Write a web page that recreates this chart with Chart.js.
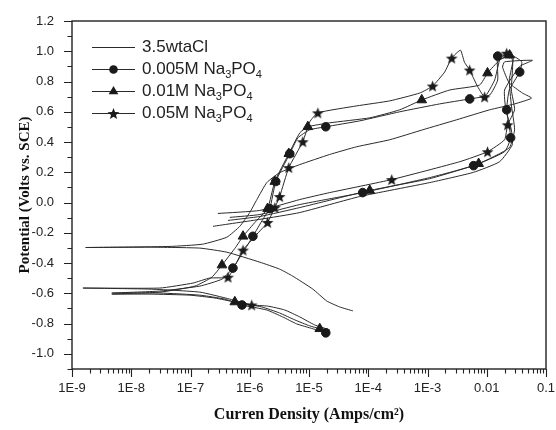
<!DOCTYPE html>
<html>
<head>
<meta charset="utf-8">
<script src="https://cdn.jsdelivr.net/npm/chart.js@4.4.1/dist/chart.umd.min.js"></script>
<style>
  html, body { margin: 0; padding: 0; background: #fff; }
  #wrap { width: 556px; height: 430px; }
</style>
</head>
<body>
<div id="wrap"><canvas id="c" width="556" height="430"></canvas></div>
<script>
// ---- tick labels ----
const xTickValues = [1e-9, 1e-8, 1e-7, 1e-6, 1e-5, 1e-4, 1e-3, 0.01, 0.1];
const xTickLabels = ['1E-9', '1E-8', '1E-7', '1E-6', '1E-5', '1E-4', '1E-3', '0.01', '0.1'];
const yTickValues = [-1.0, -0.8, -0.6, -0.4, -0.2, 0.0, 0.2, 0.4, 0.6, 0.8, 1.0, 1.2];
const yTickLabels = ['-1.0', '-0.8', '-0.6', '-0.4', '-0.2', '0.0', '0.2', '0.4', '0.6', '0.8', '1.0', '1.2'];
const yMinorValues = [-1.1, -0.9, -0.7, -0.5, -0.3, -0.1, 0.1, 0.3, 0.5, 0.7, 0.9, 1.1];

const seriesNames = ['3.5wtaCl', '0.005M Na', '0.01M Na', '0.05M Na'];

// ---- 3.5wtaCl (current A/cm2, potential V) ----
const clI = [5.5e-5, 3.3e-5, 2.0e-5, 1.16e-5, 5.3e-6, 3.2e-6, 1.48e-6, 4.1e-7, 1.44e-7, 2.1e-8, 1.7e-9,
  4.5e-8, 1.6e-7, 4.1e-7, 6.8e-7, 1.0e-6, 1.32e-6, 1.94e-6, 3.2e-6, 7.0e-6, 2.2e-5, 6.4e-5, 2.3e-4,
  8.3e-4, 3.1e-3, 1.12e-2, 2.95e-2, 5.7e-2, 4.0e-2, 2.4e-2, 1.85e-2, 2.0e-2, 5.9e-2, 3.6e-2, 2.0e-2,
  2.1e-2, 2.6e-2, 2.7e-2, 1.65e-2, 6.0e-3, 1.09e-3, 7.2e-5, 7.0e-6, 1.48e-6, 2.4e-7];
const clE = [-0.716, -0.69, -0.651, -0.572, -0.486, -0.44, -0.394, -0.328, -0.301, -0.295, -0.297,
  -0.29, -0.275, -0.229, -0.157, -0.066, 0.02, 0.132, 0.198, 0.251, 0.317, 0.369, 0.415,
  0.481, 0.547, 0.613, 0.652, 0.69, 0.724, 0.79, 0.895, 0.93, 0.94, 0.90, 0.744,
  0.613, 0.481, 0.382, 0.27, 0.2, 0.132, 0.04, -0.066, -0.111, -0.157];

// ---- 0.005M Na3PO4 ----
const p005I = [1.92e-5, 1.16e-5, 6.2e-6, 3.6e-6, 1.94e-6, 7.4e-7, 3.8e-7, 1.44e-7, 3.05e-8, 4.7e-9,
  3.05e-8, 1.44e-7, 3.4e-7, 5.2e-7, 8.3e-7, 1.13e-6, 1.66e-6, 2.18e-6, 2.75e-6, 4.74e-6, 6.5e-6,
  1.03e-5, 1.92e-5, 7.2e-5, 3.4e-4, 1.6e-3, 5.15e-3, 1.12e-2, 1.53e-2, 1.53e-2, 2.6e-2, 3.9e-2,
  3.6e-2, 2.4e-2, 2.17e-2, 2.53e-2, 2.0e-2, 6.0e-3, 1.09e-3, 8.07e-5, 7.0e-6, 1.48e-6, 4.6e-7];
const p005E = [-0.861, -0.834, -0.802, -0.756, -0.71, -0.677, -0.638, -0.612, -0.598, -0.598,
  -0.585, -0.552, -0.506, -0.433, -0.308, -0.223, -0.111, -0.04, 0.139, 0.323, 0.428,
  0.481, 0.501, 0.54, 0.6, 0.652, 0.685, 0.711, 0.81, 0.968, 0.974, 0.93,
  0.863, 0.744, 0.613, 0.428, 0.336, 0.244, 0.165, 0.066, -0.013, -0.079, -0.098];
const p005Marks = [0, 5, 13, 15, 17, 18, 19, 22, 26, 29, 32, 34, 35, 37, 39];

// ---- 0.01M Na3PO4 ----
const p01I = [1.52e-5, 1.03e-5, 5.8e-6, 3.2e-6, 1.6e-6, 5.6e-7, 2.58e-7, 9.8e-8, 2.07e-8, 4.7e-9,
  3.05e-8, 1.19e-7, 2.3e-7, 3.4e-7, 5.8e-7, 7.7e-7, 1.27e-6, 2.0e-6, 2.65e-6, 4.56e-6, 7.0e-6,
  9.55e-6, 2.24e-5, 1.06e-4, 3.4e-4, 8.0e-4, 2.37e-3, 7.6e-3, 1.03e-2, 1.65e-2, 2.43e-2, 2.8e-2,
  2.4e-2, 2.6e-2, 2.95e-2, 2.4e-2, 7.3e-3, 1.09e-3, 1.06e-4, 7.0e-6, 1.48e-6, 4.3e-7];
const p01E = [-0.834, -0.815, -0.776, -0.73, -0.69, -0.657, -0.631, -0.612, -0.605, -0.605,
  -0.592, -0.552, -0.493, -0.413, -0.295, -0.223, -0.124, -0.04, 0.139, 0.323, 0.461,
  0.501, 0.527, 0.56, 0.613, 0.678, 0.744, 0.777, 0.856, 0.941, 0.974, 0.95,
  0.81, 0.645, 0.481, 0.362, 0.257, 0.158, 0.08, -0.033, -0.092, -0.118];
const p01Marks = [0, 5, 13, 15, 17, 18, 19, 21, 25, 28, 30, 36, 38];

// ---- 0.05M Na3PO4 ----
const p05I = [2.24e-5, 1.25e-5, 7.0e-6, 3.9e-6, 2.0e-6, 1.08e-6, 4.6e-7, 1.44e-7, 2.07e-8, 1.53e-9,
  3.05e-8, 1.1e-7, 2.1e-7, 4.3e-7, 5.8e-7, 7.7e-7, 1.27e-6, 2.0e-6, 2.65e-6, 3.2e-6, 4.56e-6,
  7.85e-6, 1.03e-5, 1.41e-5, 6.4e-5, 2.3e-4, 7.4e-4, 1.22e-3, 1.95e-3, 2.56e-3, 3.6e-3, 4.2e-3,
  5.15e-3, 6.8e-3, 9.2e-3, 1.36e-2, 1.65e-2, 2.17e-2, 2.74e-2, 2.6e-2, 2.95e-2, 2.25e-2, 2.0e-2,
  1.03e-2, 3.5e-3, 2.49e-4, 2.24e-5, 7.0e-6, 1.48e-6, 2.9e-7];
const p05E = [-0.841, -0.809, -0.756, -0.71, -0.684, -0.677, -0.638, -0.592, -0.572, -0.565,
  -0.565, -0.532, -0.499, -0.493, -0.407, -0.314, -0.216, -0.131, -0.033, 0.04, 0.231,
  0.402, 0.534, 0.593, 0.639, 0.672, 0.724, 0.77, 0.863, 0.955, 1.007, 0.928,
  0.876, 0.777, 0.698, 0.81, 0.941, 0.987, 0.94, 0.744, 0.613, 0.514, 0.415,
  0.336, 0.27, 0.152, 0.066, 0.02, -0.052, -0.072];
const p05Marks = [5, 13, 15, 17, 18, 19, 20, 21, 23, 27, 29, 32, 34, 37, 41, 43, 45];

// ---- marker glyphs ----
const INK = '#1a1a1a';
function makeStar(size) {
  const c = document.createElement('canvas');
  c.width = size; c.height = size;
  const g = c.getContext('2d');
  const cx = size / 2, cy = size / 2 + 0.6, ro = size / 2 - 0.3, ri = ro * 0.42;
  g.beginPath();
  for (let i = 0; i < 10; i++) {
    const r = i % 2 ? ri : ro;
    const a = -Math.PI / 2 + i * Math.PI / 5;
    g.lineTo(cx + r * Math.cos(a), cy + r * Math.sin(a));
  }
  g.closePath();
  g.fillStyle = INK;
  g.fill();
  return c;
}
const starImg = makeStar(13);

function pts(I, E) { return I.map((x, i) => ({ x: x, y: E[i] })); }
function markPts(I, E, idx) { return idx.map(i => ({ x: I[i], y: E[i] })); }

function lineDs(I, E) {
  return { data: pts(I, E), showLine: true, pointRadius: 0, borderColor: '#2a2a2a',
           borderWidth: 1, tension: 0.15, fill: false, order: 2 };
}
function markDs(I, E, idx, style, r) {
  return { data: markPts(I, E, idx), showLine: false, pointStyle: style, pointRadius: r,
           backgroundColor: INK, borderColor: INK, borderWidth: 1, order: 0 };
}

const datasets = [
  lineDs(clI, clE),
  lineDs(p005I, p005E),
  lineDs(p01I, p01E),
  lineDs(p05I, p05E),
  markDs(p005I, p005E, p005Marks, 'circle', 4.3),
  markDs(p01I, p01E, p01Marks, 'triangle', 5.6),
  markDs(p05I, p05E, p05Marks, starImg, 6)
];

// ---- custom plugin: frame, ticks, legend ----
const framePlugin = {
  id: 'frame',
  afterDraw(chart) {
    const { ctx, chartArea: a, scales } = chart;
    const xs = scales.x, ys = scales.y;
    ctx.save();
    ctx.strokeStyle = '#222';
    ctx.lineWidth = 1.4;
    ctx.strokeRect(a.left, a.top, a.right - a.left, a.bottom - a.top);
    ctx.lineWidth = 1.1;
    ctx.beginPath();
    yTickValues.forEach(v => { const p = Math.round(ys.getPixelForValue(v)) + 0.5; ctx.moveTo(a.left, p); ctx.lineTo(a.left - 8, p); });
    yMinorValues.forEach(v => { const p = Math.round(ys.getPixelForValue(v)) + 0.5; ctx.moveTo(a.left, p); ctx.lineTo(a.left - 4.5, p); });
    xTickValues.forEach(v => { const p = Math.round(xs.getPixelForValue(v)) + 0.5; ctx.moveTo(p, a.bottom); ctx.lineTo(p, a.bottom + 8); });
    for (let d = 0; d < xTickValues.length - 1; d++) {
      for (let k = 2; k <= 9; k++) {
        const p = Math.round(xs.getPixelForValue(xTickValues[d] * k)) + 0.5;
        ctx.moveTo(p, a.bottom); ctx.lineTo(p, a.bottom + 4.5);
      }
    }
    ctx.stroke();

    // legend
    const rows = [47, 69, 91, 113];
    const x0 = 92, x1 = 135, mx = 113.5, tx = 142;
    ctx.strokeStyle = '#2a2a2a';
    ctx.lineWidth = 1;
    rows.forEach((y, i) => {
      ctx.beginPath(); ctx.moveTo(x0, y + 0.5); ctx.lineTo(x1, y + 0.5); ctx.stroke();
      ctx.fillStyle = INK;
      if (i === 1) { ctx.beginPath(); ctx.arc(mx, y + 0.5, 4.3, 0, Math.PI * 2); ctx.fill(); }
      if (i === 2) {
        const r = 5.6;
        ctx.beginPath();
        ctx.moveTo(mx, y + 0.5 - r);
        ctx.lineTo(mx + r * Math.sin(2 * Math.PI / 3), y + 0.5 + r / 2);
        ctx.lineTo(mx - r * Math.sin(2 * Math.PI / 3), y + 0.5 + r / 2);
        ctx.closePath(); ctx.fill();
      }
      if (i === 3) { ctx.drawImage(starImg, mx - 6.5, y + 0.5 - 6.5); }
      ctx.fillStyle = '#222';
      ctx.textBaseline = 'middle';
      ctx.textAlign = 'left';
      ctx.font = '17px "Liberation Sans", Arial, sans-serif';
      ctx.fillText(seriesNames[i], tx, y);
      if (i > 0) {
        let x = tx + ctx.measureText(seriesNames[i]).width;
        ctx.font = '11px "Liberation Sans", Arial, sans-serif';
        ctx.fillText('3', x, y + 6); x += ctx.measureText('3').width;
        ctx.font = '17px "Liberation Sans", Arial, sans-serif';
        ctx.fillText('PO', x, y); x += ctx.measureText('PO').width;
        ctx.font = '11px "Liberation Sans", Arial, sans-serif';
        ctx.fillText('4', x, y + 6);
      }
    });
    ctx.restore();
  }
};

new Chart(document.getElementById('c'), {
  type: 'scatter',
  data: { datasets: datasets },
  options: {
    responsive: false,
    animation: false,
    devicePixelRatio: 1,
    layout: { padding: { left: 0, top: 21, right: 10, bottom: 0 } },
    plugins: { legend: { display: false }, tooltip: { enabled: false } },
    scales: {
      x: {
        type: 'logarithmic',
        min: 1e-9, max: 0.1,
        afterBuildTicks: s => { s.ticks = xTickValues.map(v => ({ value: v })); },
        afterFit: s => { s.height = 61; s.paddingLeft = 0; s.paddingRight = 0; },
        grid: { display: false, drawTicks: false },
        border: { display: false },
        ticks: {
          autoSkip: false, maxRotation: 0, padding: 12,
          color: '#222', font: { family: '"Liberation Sans", Arial, sans-serif', size: 13 },
          callback: (v, i) => xTickLabels[i]
        },
        title: {
          display: true, text: 'Curren Density (Amps/cm²)', color: '#111',
          font: { family: '"Liberation Serif", "Times New Roman", serif', size: 16, weight: 'bold' },
          padding: { top: 0, bottom: 6 }
        }
      },
      y: {
        type: 'linear',
        min: -1.1, max: 1.2,
        afterBuildTicks: s => { s.ticks = yTickValues.map(v => ({ value: v })); },
        afterFit: s => { s.width = 72; s.paddingTop = 0; s.paddingBottom = 0; },
        grid: { display: false, drawTicks: false },
        border: { display: false },
        ticks: {
          autoSkip: false, padding: 18,
          color: '#222', font: { family: '"Liberation Sans", Arial, sans-serif', size: 13 },
          callback: (v, i) => yTickLabels[i]
        },
        title: {
          display: true, text: 'Potential (Volts vs. SCE)', color: '#111',
          font: { family: '"Liberation Serif", "Times New Roman", serif', size: 15, weight: 'bold' },
          padding: { top: 16, bottom: 0 }
        }
      }
    }
  },
  plugins: [framePlugin]
});
</script>
</body>
</html>
